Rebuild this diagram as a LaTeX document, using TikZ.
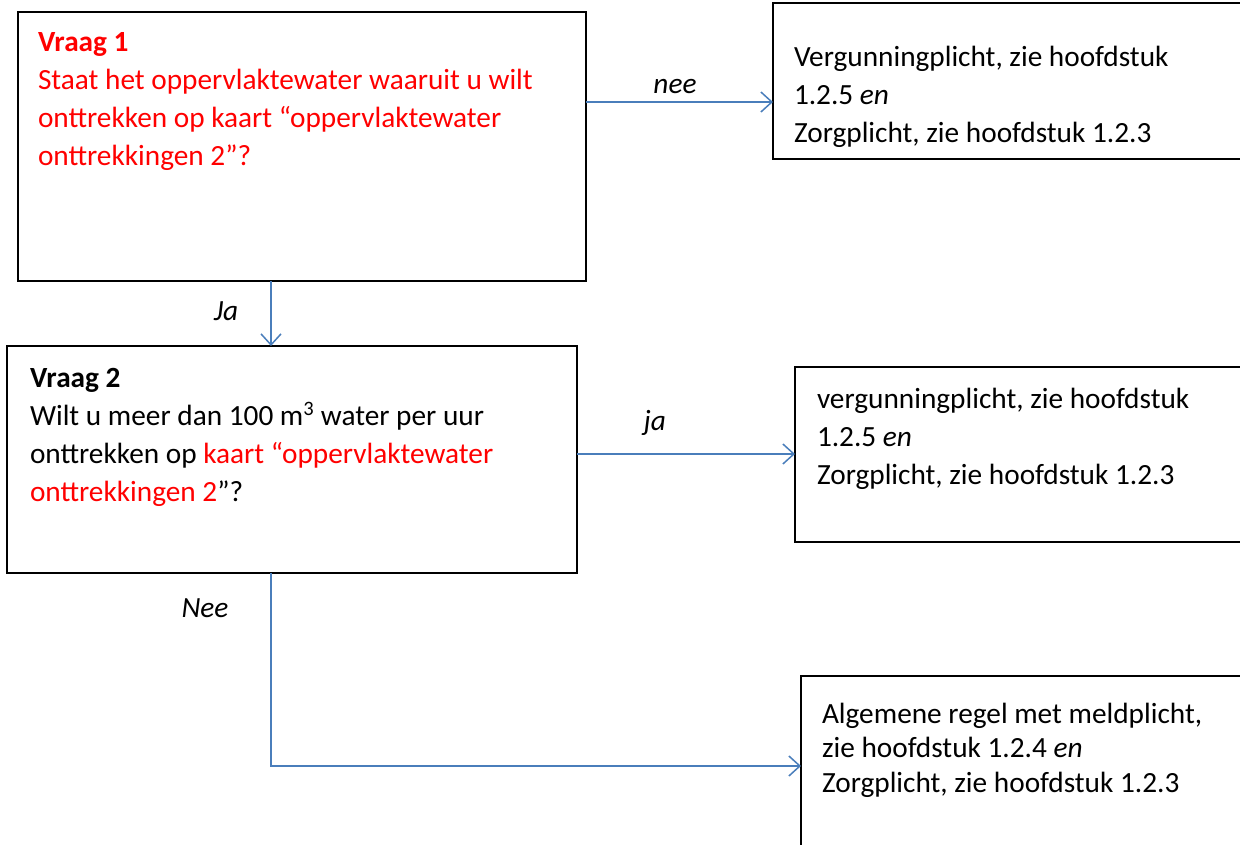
\documentclass[tikz,border=0pt]{standalone}
\usepackage{fontspec}
\setmainfont{Carlito}
\usetikzlibrary{arrows.meta}
\definecolor{conblue}{HTML}{4A7EBB}
\definecolor{qred}{HTML}{FF0000}
\newcommand\tstrut{\rule{0pt}{26.6pt}}
\begin{document}
\begin{tikzpicture}[x=1pt,y=-1pt,
  box/.style={draw=black, rectangle, inner sep=0pt, outer sep=0pt, anchor=north west},
  txt/.style={inner sep=0pt, outer sep=0pt, anchor=north west, align=left, font=\fontsize{29.3}{38}\selectfont},
  lbl/.style={inner sep=0pt, outer sep=0pt, anchor=base, font=\fontsize{29.3}{38}\selectfont\itshape},
  conn/.style={draw=conblue, line width=1.5pt},
  arr/.style={conn, -{Straight Barb[length=11pt,width=20pt,line width=1.5pt]}}
]
\useasboundingbox (0,0) rectangle (1240,845);
\clip (0,0) rectangle (1240,845);
\fill[white] (0,0) rectangle (1240,845);

% boxes
\node[box, line width=2.2pt, minimum width=568pt, minimum height=269pt] (q1) at (18,12) {};
\node[box, line width=1.6pt, minimum width=500pt, minimum height=156pt] (r1) at (773,3) {};
\node[box, line width=2pt, minimum width=570pt, minimum height=227pt] (q2) at (7,346) {};
\node[box, line width=1.6pt, minimum width=480pt, minimum height=175pt] (r2) at (795,367) {};
\node[box, line width=1.6pt, minimum width=480pt, minimum height=220pt] (r3) at (801,676) {};

% texts
\node[txt, text=qred] (t1) at (38,{52-26.6}) {\tstrut\textbf{Vraag 1}\\
 Staat het oppervlaktewater waaruit u wilt\\
onttrekken op kaart “oppervlaktewater\\
onttrekkingen 2”?};
\node[txt] (tr1) at (794,{67-26.6}) {\tstrut Vergunningplicht, zie hoofdstuk\\
1.2.5 \textit{en}\\
Zorgplicht, zie hoofdstuk 1.2.3};
\node[txt] (t2) at (30,{387-26.6}) {\tstrut\textbf{Vraag 2}\\
Wilt u meer dan 100 m\textsuperscript{3} water per uur\\
onttrekken op \textcolor{qred}{kaart “oppervlaktewater}\\
\textcolor{qred}{onttrekkingen 2}”?};
\node[txt] (tr2) at (817,{408-26.6}) {\tstrut vergunningplicht, zie hoofdstuk\\
1.2.5 \textit{en}\\
Zorgplicht, zie hoofdstuk 1.2.3};
\node[txt, font=\fontsize{29.3}{34.5}\selectfont] (tr3) at (822,{723-26.6}) {\tstrut Algemene regel met meldplicht,\\
zie hoofdstuk 1.2.4 \textit{en}\\
Zorgplicht, zie hoofdstuk 1.2.3};

% helper coordinates
\coordinate (ynee) at (0,102);
\coordinate (xja) at (271,0);
\coordinate (yja) at (0,454);
\coordinate (ynee2) at (0,766);

% connectors
\draw[arr] (q1.east |- ynee) -- (r1.west |- ynee);
\draw[arr] (q1.south -| xja) -- (q2.north -| xja);
\draw[arr] (q2.east |- yja) -- (r2.west |- yja);
\draw[arr] (q2.south -| xja) |- (r3.west |- ynee2);

% labels
\node[lbl] (lnee) at (675,94) {nee};
\node[lbl] (lJa) at (226,320) {Ja};
\node[lbl] (lja) at (655,430) {ja};
\node[lbl] (lNee) at (205,617) {Nee};
\end{tikzpicture}
\end{document}
